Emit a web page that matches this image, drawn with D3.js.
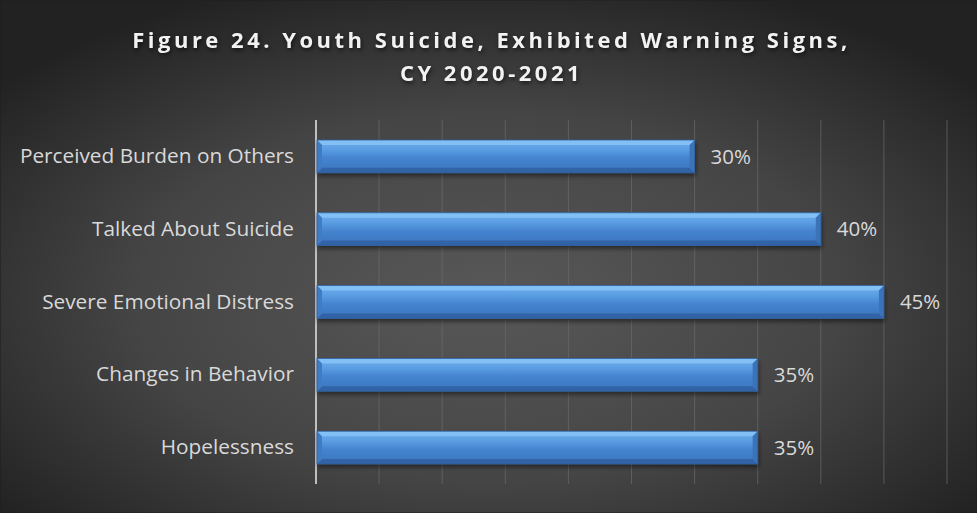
<!DOCTYPE html>
<html>
<head>
<meta charset="utf-8">
<script src="https://cdn.jsdelivr.net/npm/d3@7"></script>
<style>
  html, body { margin: 0; padding: 0; background: #333; }
  svg { display: block; }
</style>
</head>
<body>
<div id="chart"></div>
<script>
// Warning signs exhibited, share of youth suicide cases
const categories = [
  "Perceived Burden on Others",
  "Talked About Suicide",
  "Severe Emotional Distress",
  "Changes in Behavior ",
  "Hopelessness"
];
const values = [30, 40, 45, 35, 35];
const xTicks = [0, 5, 10, 15, 20, 25, 30, 35, 40, 45, 50];
const titleLines = ["Figure 24. Youth Suicide, Exhibited Warning Signs,", "CY 2020-2021"];

const W = 977, H = 513;
const margin = { top: 120, right: 30, bottom: 29, left: 316 };
const FONT = "'Open Sans', 'DejaVu Sans', sans-serif";

const svg = d3.select("#chart").append("svg")
  .attr("width", W).attr("height", H);

const defs = svg.append("defs");

// Background: soft radial glow on charcoal
const bg = defs.append("radialGradient").attr("id", "bgGrad")
  .attr("cx", "50%").attr("cy", "58%").attr("r", "65%");
bg.append("stop").attr("offset", "0%").attr("stop-color", "#585858");
bg.append("stop").attr("offset", "55%").attr("stop-color", "#454545");
bg.append("stop").attr("offset", "100%").attr("stop-color", "#222222");

// Bar face gradient
const bar = defs.append("linearGradient").attr("id", "barGrad")
  .attr("x1", 0).attr("y1", 0).attr("x2", 0).attr("y2", 1);
bar.append("stop").attr("offset", "0%").attr("stop-color", "#6fb0ee");
bar.append("stop").attr("offset", "30%").attr("stop-color", "#5a9de2");
bar.append("stop").attr("offset", "55%").attr("stop-color", "#4584d0");
bar.append("stop").attr("offset", "100%").attr("stop-color", "#3b74bd");

const shadow = defs.append("filter").attr("id", "barShadow")
  .attr("x", "-5%").attr("y", "-20%").attr("width", "110%").attr("height", "160%");
shadow.append("feDropShadow").attr("dx", 1).attr("dy", 3).attr("stdDeviation", 2)
  .attr("flood-color", "#000").attr("flood-opacity", 0.45);

svg.append("rect").attr("width", W).attr("height", H).attr("fill", "url(#bgGrad)")
  .attr("stroke", "#1e1e1e").attr("stroke-width", 1);

// Title
const title = svg.append("text")
  .attr("text-anchor", "middle")
  .attr("font-family", FONT)
  .attr("font-weight", "bold")
  .attr("font-size", 22)
  .attr("letter-spacing", 3.5)
  .attr("fill", "#f2f2f2")
  .style("filter", "drop-shadow(1px 2px 2px rgba(0,0,0,0.6))");
titleLines.forEach((t, i) => {
  title.append("tspan").attr("x", W / 2 + 3).attr("y", 48 + i * 33).text(t);
});

const x = d3.scaleLinear().domain([0, 50]).range([margin.left, W - margin.right]);
const y = d3.scaleBand().domain(categories)
  .range([margin.top, H - margin.bottom]).paddingInner(0.55).paddingOuter(0.275);

// Vertical gridlines
svg.append("g")
  .selectAll("line").data(xTicks.filter(d => d > 0)).join("line")
  .attr("x1", d => x(d)).attr("x2", d => x(d))
  .attr("y1", margin.top).attr("y2", H - margin.bottom)
  .attr("stroke", "#6a6a6a").attr("stroke-width", 1).attr("opacity", 0.7);

// Category axis
const yAxis = svg.append("g")
  .attr("transform", `translate(${margin.left},0)`)
  .call(d3.axisLeft(y).tickSize(0).tickPadding(22));
yAxis.select(".domain").attr("stroke", "#bfbfbf").attr("stroke-width", 2)
  .attr("d", `M0,${margin.top}V${H - margin.bottom}`);
yAxis.selectAll("text")
  .attr("font-family", FONT)
  .attr("font-size", 20.8)
  .attr("fill", "#d9d9d9");

// Bars with bevelled edges
const bev = 5;
const bars = svg.append("g").selectAll("g").data(categories).join("g")
  .attr("filter", "url(#barShadow)");

bars.each(function (c, i) {
  const g = d3.select(this);
  const x0 = x(0) + 1, x1 = x(values[i]);
  const y0 = y(c), y1 = y(c) + y.bandwidth();
  g.append("rect").attr("x", x0).attr("y", y0)
    .attr("width", x1 - x0).attr("height", y1 - y0)
    .attr("fill", "url(#barGrad)");
  // top facet
  g.append("path").attr("d", `M${x0},${y0}H${x1}L${x1 - bev},${y0 + bev}H${x0 + bev}Z`)
    .attr("fill", "#86c3f7").attr("opacity", 0.85);
  // bottom facet
  g.append("path").attr("d", `M${x0},${y1}H${x1}L${x1 - bev},${y1 - bev}H${x0 + bev}Z`)
    .attr("fill", "#2f62a3").attr("opacity", 0.9);
  // left facet
  g.append("path").attr("d", `M${x0},${y0}L${x0 + bev},${y0 + bev}V${y1 - bev}L${x0},${y1}Z`)
    .attr("fill", "#3f7cc6");
  // right facet
  g.append("path").attr("d", `M${x1},${y0}L${x1 - bev},${y0 + bev}V${y1 - bev}L${x1},${y1}Z`)
    .attr("fill", "#3a72b8");
  g.append("rect").attr("x", x0).attr("y", y0)
    .attr("width", x1 - x0).attr("height", y1 - y0)
    .attr("fill", "none").attr("stroke", "#2f5f9c").attr("stroke-width", 0.8);
});

// Value labels
svg.append("g").selectAll("text").data(categories).join("text")
  .attr("x", (c, i) => x(values[i]) + 16)
  .attr("y", c => y(c) + y.bandwidth() / 2)
  .attr("dy", "0.35em")
  .attr("font-family", FONT)
  .attr("font-size", 20.5)
  .attr("fill", "#d9d9d9")
  .text((c, i) => values[i] + "%");
</script>
</body>
</html>
